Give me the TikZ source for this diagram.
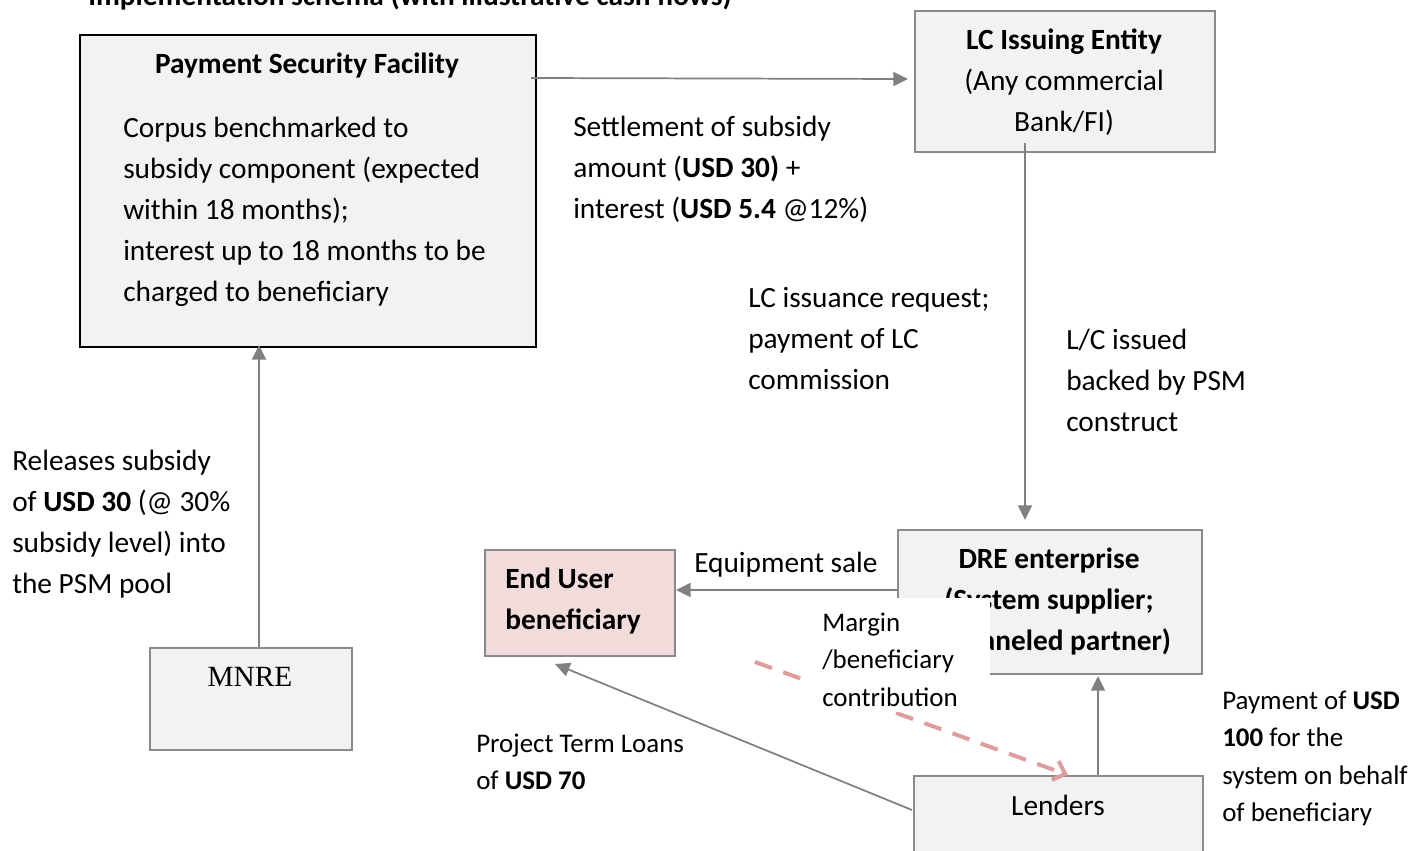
\documentclass[tikz,border=0pt]{standalone}
\usepackage{fontspec}
\setmainfont{Carlito}
\newfontfamily\timesf{Liberation Serif}
\usetikzlibrary{arrows.meta,calc}
\definecolor{boxfill}{HTML}{F2F2F2}
\definecolor{boxline}{HTML}{8A8A8A}
\definecolor{arrgray}{HTML}{808080}
\definecolor{pinkfill}{HTML}{F2DCDB}
\definecolor{dashpink}{HTML}{DE9C9C}
\begin{document}
\begin{tikzpicture}[x=0.75pt,y=-0.75pt,
  box/.style={draw=boxline, fill=boxfill, line width=1.5pt, inner sep=0pt, anchor=north west},
  arr/.style={draw=arrgray, line width=1.3pt, -{Triangle[length=11pt,width=10.5pt]}},
  big/.style={font=\fontsize{22}{30.75}\selectfont, inner sep=0pt, align=left, anchor=base west},
  small/.style={font=\fontsize{20.2}{28.1}\selectfont, inner sep=0pt, align=left, anchor=base west},
  bigc/.style={font=\fontsize{22}{30.75}\selectfont\bfseries, inner sep=0pt, align=center, anchor=base}
]
\useasboundingbox (0,0) rectangle (1423,850);

% title (cut off at top)
\node[big, font=\fontsize{22}{30.75}\selectfont\bfseries] (title) at (88,5) {Implementation schema (with illustrative cash flows)};

% boxes
\node[box, draw=black, minimum width=342pt, minimum height=234pt] (psf) at (79,34) {};
\node[box, minimum width=225pt, minimum height=105.75pt] (lc) at (914,10) {};
\node[box, minimum width=228pt, minimum height=108pt] (dre) at (897,529) {};
\node[box, fill=pinkfill, minimum width=142.5pt, minimum height=79.5pt] (eu) at (484,549) {};
\node[box, minimum width=151.5pt, minimum height=76.5pt] (mnre) at (149,647) {};
\node[box, minimum width=216.75pt, minimum height=66pt] (lend) at (913,775) {};

% box texts (anchor base = baseline of the last line)
\node[bigc] (psft) at (307,73) {Payment Security Facility};
\node[big] (psfb) at (123,301) {Corpus benchmarked to\\subsidy component (expected\\within 18 months);\\interest up to 18 months to be\\charged to beneficiary};
\node[bigc, font=\fontsize{22}{30.75}\selectfont] (lct) at (1064,131) {\textbf{LC Issuing Entity}\\(Any commercial\\Bank/FI)};
\node[bigc] (dret) at (1049,650) {DRE enterprise\\(System supplier;\\Empaneled partner)};
\node[big, font=\fontsize{22}{30.75}\selectfont\bfseries] (eut) at (505,629) {End User\\beneficiary};
\node[inner sep=0pt, anchor=base, font=\fontsize{22}{26}\timesf] (mnret) at (250,686) {MNRE};
\node[inner sep=0pt, anchor=base, font=\fontsize{22}{30.75}\selectfont] (lendt) at (1058,815) {Lenders};

% dashed margin flow
\draw[draw=dashpink, line width=3pt, dash pattern=on 13.5pt off 9pt, -{Straight Barb[length=8pt,width=15pt]}] (755,662) coordinate (dstart) -- ($(lend.north west)+(155,0)$);

% margin label (white box covering part of the DRE box)
\node[anchor=north west, fill=white, inner sep=0pt, minimum width=138.75pt, minimum height=85.5pt] (marginbox) at (805,598) {};
\node[small] (margint) at (822,706) {Margin\\/beneficiary\\contribution};

% arrows
\draw[arr] ($(psf.north east)+(-6,44)$) -- ($(lc.north west)+(-6,69)$);
\draw[arr] ($(lc.south west)+(111,-10)$) -- ($(dre.north west)+(128,-9)$);
\draw[arr] ($(mnre.north west)+(110,0)$) -- ($(psf.south west)+(180,-3)$);
\draw[arr] ($(dre.north west)+(0,61)$) -- ($(eu.north east)+(0,41)$);
\draw[arr] ($(lend.north west)+(185,0)$) -- ($(dre.south west)+(201,1)$);
\draw[arr] ($(lend.north west)+(-1,35)$) -- ($(eu.south west)+(71,7)$);

% labels
\node[big] (settle) at (573,218) {Settlement of subsidy\\amount (\textbf{USD 30)} +\\interest (\textbf{USD 5.4} @12\%)};
\node[big] (lcreq) at (748,389) {LC issuance request;\\payment of LC\\commission};
\node[big] (lcissued) at (1066,431) {L/C issued\\backed by PSM\\construct};
\node[big] (release) at (12,593) {Releases subsidy\\of \textbf{USD 30} (@ 30\%\\subsidy level) into\\the PSM pool};
\node[big] (equip) at (694,572) {Equipment sale};
\node[small] (loans) at (476,789.5) {Project Term Loans\\of \textbf{USD 70}};
\node[small] (pay) at (1222,821.5) {Payment of \textbf{USD}\\\textbf{100} for the\\system on behalf\\of beneficiary};
\end{tikzpicture}
\end{document}
